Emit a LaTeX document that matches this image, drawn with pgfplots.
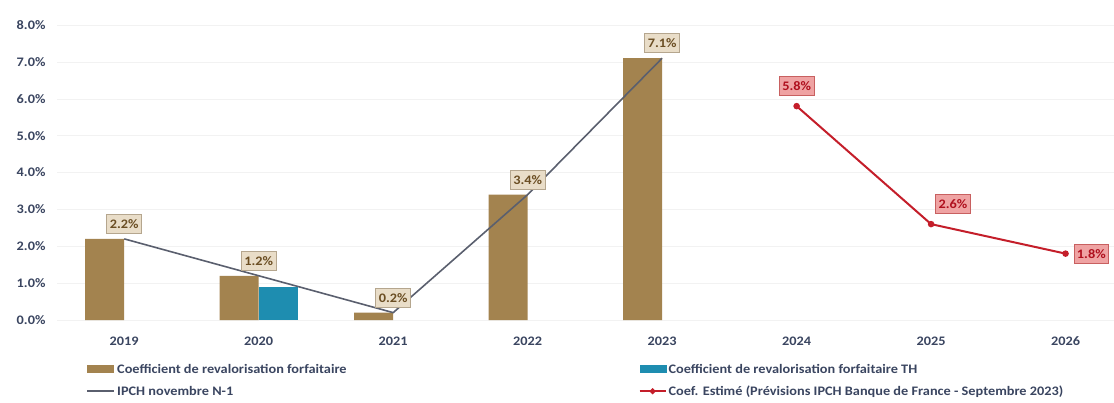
\documentclass[border=0pt]{standalone}
\usepackage{fontspec}
\setmainfont{Carlito}[FakeStretch=1.1]
\usepackage{pgfplots}
\pgfplotsset{compat=1.18}
\definecolor{barbrown}{HTML}{A3834F}
\definecolor{barteal}{HTML}{1E8DB0}
\definecolor{ipch}{HTML}{5A5F6E}
\definecolor{estred}{HTML}{C41E2A}
\definecolor{ticktext}{HTML}{3A4560}
\definecolor{lblfill}{HTML}{E9DDC8}
\definecolor{lbldraw}{HTML}{B5A68E}
\definecolor{lbltext}{HTML}{6B4E23}
\definecolor{redfill}{HTML}{EFA3A3}
\definecolor{reddraw}{HTML}{C86060}
\definecolor{redtext}{HTML}{B0101E}
\newcommand{\fs}{\fontsize{13}{15}\selectfont\bfseries}
\pgfplotsset{
  lineleg/.style={legend image code/.code={\draw[##1] (0pt,0pt) -- (27pt,0pt);}},
  markleg/.style={legend image code/.code={\draw[##1,mark repeat=2,mark phase=2,mark size=1.8pt] plot coordinates {(0pt,0pt) (13pt,0pt) (26pt,0pt)};}},
  brownleg/.style={legend image code/.code={\fill[barbrown] (0pt,-4pt) rectangle (27pt,4pt);}},
  tealleg/.style={legend image code/.code={\fill[barteal] (0pt,-4pt) rectangle (27pt,4pt);}},
  redlbl/.style={draw=none, mark=none, forget plot,
  nodes near coords={\pgfmathprintnumber[fixed,precision=1,fixed zerofill]{\pgfplotspointmeta}\%},
  every node near coord/.append style={font=\fs, text=redtext,
    fill=redfill, draw=reddraw, line width=0.8pt, inner xsep=3pt, inner ysep=5pt}},
}
\begin{document}
\begin{tikzpicture}
\useasboundingbox (0,0) rectangle (1114pt,402pt);
\begin{axis}[
  at={(57pt,82pt)}, anchor=south west,
  scale only axis, width=1057pt, height=295pt,
  xmin=-0.5, xmax=7.36, ymin=0, ymax=8,
  clip=false,
  axis line style={draw=none},
  ytick={0,1,...,8},
  yticklabel={\pgfmathprintnumber[fixed,precision=1,fixed zerofill]{\tick}\%},
  yticklabel style={font=\fs, text=ticktext, xshift=-8pt},
  xtick={0,1,...,7},
  xticklabels={2019,2020,2021,2022,2023,2024,2025,2026},
  xticklabel style={font=\fs, text=ticktext, yshift=-13pt},
  major tick length=0pt,
  ymajorgrids, grid style={black!5, line width=0.4pt},
  /pgf/number format/assume math mode=true,
  legend columns=2,
  legend cell align=left,
  legend style={draw=none, fill=none, font=\fs, text=ticktext,
    at={(0.025,-0.135)}, anchor=north west,
    /tikz/every even column/.append style={column sep=290pt},
    row sep=7pt},
]
\addplot[ybar, bar width=0.29, bar shift=-0.145, fill=barbrown, draw=none,
  brownleg,
  nodes near coords={\pgfmathprintnumber[fixed,precision=1,fixed zerofill]{\pgfplotspointmeta}\%},
  every node near coord/.append style={font=\fs, text=lbltext,
    fill=lblfill, draw=lbldraw, line width=0.8pt, inner xsep=3pt, inner ysep=5pt, anchor=south, yshift=5pt}]
  coordinates {(0,2.2) (1,1.2) (2,0.2) (3,3.4) (4,7.1)};
\addlegendentry{Coefficient de revalorisation forfaitaire}
\addplot[ybar, bar width=0.29, bar shift=0.145, fill=barteal, draw=none, tealleg]
  coordinates {(1,0.9)};
\addlegendentry{Coefficient de revalorisation forfaitaire TH}
\addplot[color=ipch, line width=1.6pt, mark=none, lineleg]
  coordinates {(0,2.2) (1,1.2) (2,0.2) (3,3.4) (4,7.1)};
\addlegendentry{IPCH novembre N-1}
\addplot[color=estred, line width=2pt, mark=*, mark size=2.2pt, markleg]
  coordinates {(5,5.8) (6,2.6) (7,1.8)};
\addlegendentry{Coef. Estimé (Prévisions IPCH Banque de France - Septembre 2023)}
\addplot[redlbl, every node near coord/.append style={anchor=south, yshift=10pt}] coordinates {(5,5.8)};
\addplot[redlbl, every node near coord/.append style={anchor=south west, xshift=4pt, yshift=10pt}] coordinates {(6,2.6)};
\addplot[redlbl, every node near coord/.append style={anchor=west, xshift=8pt}] coordinates {(7,1.8)};
\end{axis}
\end{tikzpicture}
\end{document}
